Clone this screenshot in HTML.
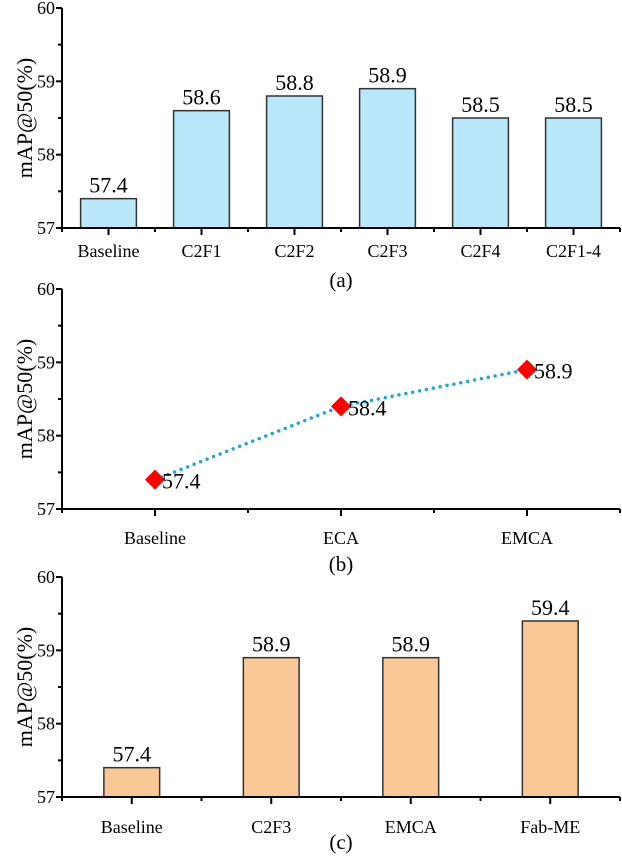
<!DOCTYPE html>
<html><head><meta charset="utf-8"><style>
body{margin:0;background:#fff}
svg, svg text{font-family:"Liberation Serif","DejaVu Serif",serif}
</style></head><body>
<svg id="chart" width="622" height="856" viewBox="0 0 622 856" xmlns="http://www.w3.org/2000/svg" font-family="Liberation Serif, DejaVu Serif, serif"></svg>
<script>
const catsA=["Baseline","C2F1","C2F2","C2F3","C2F4","C2F1-4"];
const valsA=[57.4,58.6,58.8,58.9,58.5,58.5];
const catsB=["Baseline","ECA","EMCA"];
const valsB=[57.4,58.4,58.9];
const catsC=["Baseline","C2F3","EMCA","Fab-ME"];
const valsC=[57.4,58.9,58.9,59.4];
const yTicks=[57,58,59,60];
const captions=["(a)","(b)","(c)"];

const svg=document.getElementById('chart');
const NS="http://www.w3.org/2000/svg";
const FF="Liberation Serif, DejaVu Serif, serif";
function mk(tag,attrs,parent){const e=document.createElementNS(NS,tag);for(const k in attrs)e.setAttribute(k,attrs[k]);if(tag==='text')e.setAttribute('font-family',FF);(parent||svg).appendChild(e);return e;}

function panel(idx,cats,vals,top,type,fill,barFrac,labOff,capOff){
  const g=mk('g',{});
  
  
  const x0=62,x1=620,yTop=top,yBot=top+220;
  const yMin=57,yMax=60;
  const ys=v=>yBot-(v-yMin)/(yMax-yMin)*(yBot-yTop);
  const step=(x1-x0)/cats.length;
  const xs=i=>x0+step*(i+0.5);
  yTicks.forEach(t=>{
    mk('line',{x1:x0-6,x2:x0,y1:ys(t),y2:ys(t),stroke:'#000','stroke-width':2},g);
    const tx=mk('text',{x:x0-7,y:ys(t)+6,'text-anchor':'end','font-size':18},g);
    tx.textContent=t;
    
    
    if(t<yMax) mk('line',{x1:x0-4,x2:x0,y1:ys(t+0.5),y2:ys(t+0.5),stroke:'#000','stroke-width':2},g);
  });
  for(let i=0;i<=cats.length;i++){
    const xx=x0+step*i;
    mk('line',{x1:xx,x2:xx,y1:yBot,y2:yBot+4,stroke:'#000','stroke-width':2},g);
  }
  cats.forEach((c,i)=>{
    mk('line',{x1:xs(i),x2:xs(i),y1:yBot,y2:yBot+7,stroke:'#000','stroke-width':2},g);
    const tx=mk('text',{x:xs(i),y:yBot+labOff,'text-anchor':'middle','font-size':18},g);
    tx.textContent=c;
    
    
  });
  if(type==='bar'){
    const bw=step*barFrac;
    vals.forEach((v,i)=>{
      const r=mk('rect',{x:xs(i)-bw/2,y:ys(v),width:bw,height:yBot-ys(v),fill:fill,stroke:'#333','stroke-width':1.5},g);
      
      
      const t=mk('text',{x:xs(i),y:ys(v)-6,'text-anchor':'middle','font-size':22},g);
      t.textContent=v.toFixed(1);
      
      
    });
  } else {
    const pts=vals.map((v,i)=>xs(i)+','+ys(v)).join(' ');
    const pl=mk('polyline',{points:pts,fill:'none',stroke:'#1aa7e0','stroke-width':3.5,'stroke-dasharray':'0 7','stroke-linecap':'round'},g);
    
    
    vals.forEach((v,i)=>{
      const x=xs(i),y=ys(v),s=10;
      const p=mk('polygon',{points:`${x},${y-s} ${x+s},${y} ${x},${y+s} ${x-s},${y}`,fill:'#ff0000'},g);
      
      
      const t=mk('text',{x:x+7,y:y+9,'font-size':22},g);
      t.textContent=v.toFixed(1);
      
      
    });
  }
  mk('line',{x1:x0,x2:x0,y1:yTop,y2:yBot+1,stroke:'#000','stroke-width':2},g);
  mk('line',{x1:x0-1,x2:x1,y1:yBot,y2:yBot,stroke:'#000','stroke-width':2},g);
  const yt=mk('text',{x:0,y:0,'text-anchor':'middle','font-size':22,transform:`translate(32,${(yTop+yBot)/2}) rotate(-90)`},g);
  yt.textContent='mAP@50(%)';
  
  
  const cp=mk('text',{x:341,y:yBot+capOff,'text-anchor':'middle','font-size':21},g);
  cp.textContent=captions[idx];
  
  
}
panel(0,catsA,valsA,8,'bar','#b8e8f9',0.6,29,59);
panel(1,catsB,valsB,289,'line',null,0,35,62);
panel(2,catsC,valsC,577,'bar','#f9c896',0.4,36,52);
</script>
</body></html>
